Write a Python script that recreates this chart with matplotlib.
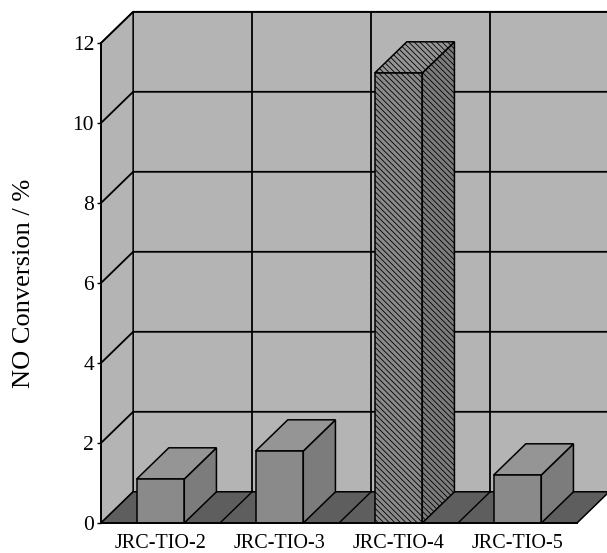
import numpy as np
import matplotlib
matplotlib.use("Agg")
import matplotlib.pyplot as plt
from matplotlib.patches import Polygon

#==========================================================
#   data
#==========================================================
samples    = ['JRC-TIO-2', 'JRC-TIO-3', 'JRC-TIO-4', 'JRC-TIO-5']
conversion = [1.1, 1.8, 11.25, 1.2]
yticks     = [0, 2, 4, 6, 8, 10, 12]

#==========================================================
#   3d look params
#==========================================================
dx, dy   = 0.27, 0.78          # depth offset (x in categories, y in %)
bw       = 0.4                 # bar width
c_wall   = '#b4b4b4'
c_floor  = '#5e5e5e'
c_front  = '#8a8a8a'
c_side   = '#7c7c7c'
c_top    = '#959595'

plt.rcParams['font.family'] = ['Liberation Serif', 'DejaVu Serif']
plt.rcParams['hatch.linewidth'] = 0.6

fig = plt.figure(figsize=(6.07, 5.53), dpi=100)
ax  = fig.add_axes([101/607, 30/553, 476/607, 480/553])
ax.set_xlim(0, len(samples))
ax.set_ylim(0, 12)

n    = len(samples)
ymax = yticks[-1]

def poly(pts, fc, z, hatch=None):
    p = Polygon(pts, closed=True, fc=fc, ec='black', lw=1.1, zorder=z,
                clip_on=False, hatch=hatch)
    ax.add_patch(p)

# walls and floor
poly([(dx, dy), (n+dx, dy), (n+dx, ymax+dy), (dx, ymax+dy)], c_wall, 1)
poly([(0, 0), (dx, dy), (dx, ymax+dy), (0, ymax)], c_wall, 1)
poly([(0, 0), (n, 0), (n+dx, dy), (dx, dy)], c_floor, 1)

# grid
for v in yticks[1:]:
    ax.plot([0, dx, n+dx], [v, v+dy, v+dy], 'k-', lw=1.3, zorder=2, clip_on=False)
for k in range(1, n):
    ax.plot([k+dx, k+dx], [dy, ymax+dy], 'k-', lw=1.3, zorder=2, clip_on=False)
    ax.plot([k, k+dx], [0, dy], 'k-', lw=1.0, zorder=2, clip_on=False)

# bars
for i, v in enumerate(conversion):
    x0 = i + 0.5 - bw/2
    x1 = x0 + bw
    h  = '\\\\\\\\\\\\' if v > 5 else None
    poly([(x1, 0), (x1+dx, dy), (x1+dx, v+dy), (x1, v)], c_side, 3, h)
    poly([(x0, v), (x1, v), (x1+dx, v+dy), (x0+dx, v+dy)], c_top, 3, h)
    poly([(x0, 0), (x1, 0), (x1, v), (x0, v)], c_front, 3, h)

# axes cosmetics
for s in ['top', 'right']:
    ax.spines[s].set_visible(False)
ax.spines['left'].set_linewidth(1.3)
ax.spines['bottom'].set_linewidth(1.3)
ax.spines['left'].set_zorder(4)
ax.spines['bottom'].set_zorder(4)
ax.set_yticks(yticks)
ax.tick_params(axis='y', length=3, width=1, labelsize=15.5, pad=2)
ax.set_xticks(np.arange(n) + 0.5)
ax.set_xticklabels(samples)
ax.tick_params(axis='x', length=0, labelsize=14.5, pad=8)
ax.set_ylabel('NO Conversion / %', fontsize=19, labelpad=27)
ax.patch.set_visible(False)

fig.savefig('out.png', dpi=100)
